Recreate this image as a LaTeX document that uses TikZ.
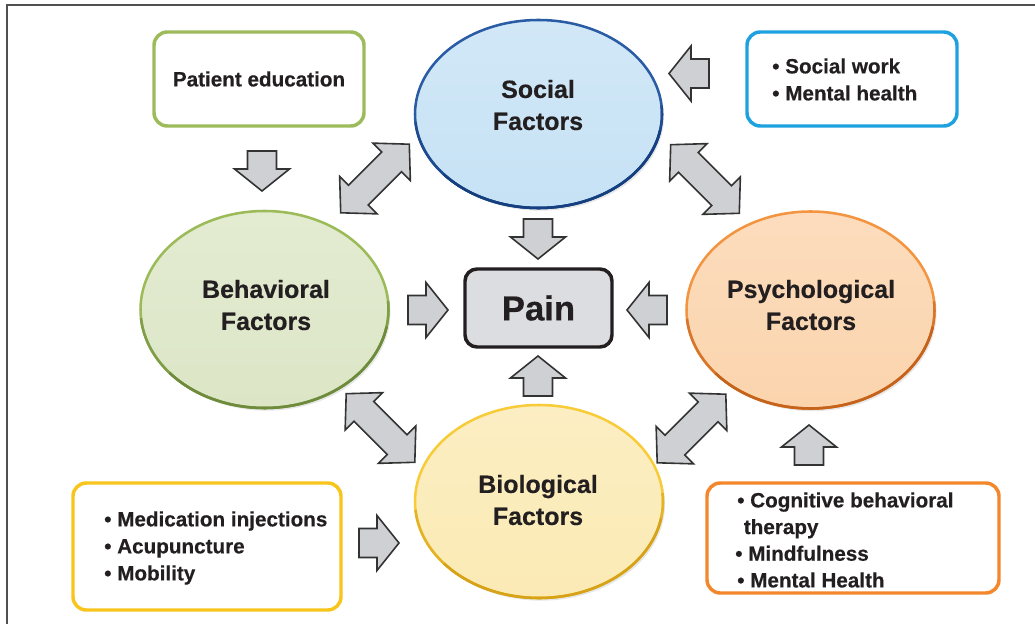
\documentclass[tikz,border=0pt]{standalone}
\usepackage{fontspec}
\setmainfont{Liberation Sans}[BoldFeatures={FakeBold=0.4}]
\usetikzlibrary{shapes.geometric,shadows}

\definecolor{txt}{HTML}{231F20}
\definecolor{frameline}{HTML}{505050}
\definecolor{socfill}{HTML}{C6E2F5}
\definecolor{socline}{HTML}{2A5CA6}
\definecolor{socdark}{HTML}{163F80}
\definecolor{behfill}{HTML}{DCE6C6}
\definecolor{behline}{HTML}{9BBB59}
\definecolor{behdark}{HTML}{6E8B3D}
\definecolor{psyfill}{HTML}{FBD4AD}
\definecolor{psyline}{HTML}{F39540}
\definecolor{psydark}{HTML}{C5621C}
\definecolor{biofill}{HTML}{FBEAB4}
\definecolor{bioline}{HTML}{F8CB38}
\definecolor{biodark}{HTML}{D6A21A}
\definecolor{patline}{HTML}{9DBB5A}
\definecolor{swline}{HTML}{1EA2DF}
\definecolor{medline}{HTML}{F7C51C}
\definecolor{cbtline}{HTML}{F4872B}
\definecolor{painfill}{HTML}{DCDDE0}
\definecolor{painline}{HTML}{231F20}
\definecolor{arrfill}{HTML}{CFD0D3}
\definecolor{arrline}{HTML}{333333}

\tikzset{
  ell/.style={ellipse, draw, line width=1.9pt, inner sep=0pt,
    drop shadow={opacity=0.2, shadow xshift=1.5pt, shadow yshift=-2pt}},
  rim/.style={line width=1.9pt},
  tbox/.style={rectangle, rounded corners=10pt, draw, line width=2.6pt,
    fill=white, inner sep=0pt, minimum width=157.5pt, minimum height=70.5pt},
  lbl/.style={align=center, inner sep=0pt, text=txt,
    font=\fontsize{18.75}{24}\selectfont\bfseries},
  itm/.style={align=left, anchor=west, inner sep=0pt, text=txt,
    font=\fontsize{15.5}{20.25}\selectfont\bfseries},
  arr/.style={draw=arrline, fill=arrfill, line width=1.2pt, line join=miter},
  frame/.style={draw=frameline, line width=1.5pt},
  sarrow/.pic={
    \path[arr] (0,-14.5) -- (18,-14.5) -- (18,-27.5) -- (40,0) -- (18,27.5)
      -- (18,14.5) -- (0,14.5) -- cycle;
  },
  darrow/.pic={
    \path[arr] (-48.5,0) -- (-23.5,26.5) -- (-23.5,14) -- (23.5,14) -- (23.5,26.5)
      -- (48.5,0) -- (23.5,-26.5) -- (23.5,-14) -- (-23.5,-14) -- (-23.5,-26.5) -- cycle;
  }
}

\begin{document}
\begin{tikzpicture}[x=0.75pt,y=-0.75pt]
\useasboundingbox (0,0) rectangle (1035,624);

% frame (only top and left edges visible)
\coordinate (fTR) at (1035,5);
\coordinate (fTL) at (6.5,5);
\coordinate (fBL) at (6.5,624);
\draw[frame] (fTR) -- (fTL) -- (fBL);

% ellipses
\node[ell, draw=socline, top color=socfill!80!white, bottom color=socfill,
  minimum width=185.25pt, minimum height=141pt] (social) at (538.5,114) {};
\node[ell, draw=behline, top color=behfill!80!white, bottom color=behfill,
  minimum width=186pt, minimum height=147.75pt] (behav) at (264.5,309.5) {};
\node[ell, draw=psyline, top color=psyfill!80!white, bottom color=psyfill,
  minimum width=186pt, minimum height=147.75pt] (psych) at (810.5,310) {};
\node[ell, draw=bioline, top color=biofill!80!white, bottom color=biofill,
  minimum width=186pt, minimum height=144.75pt] (bio) at (539,501.5) {};

% darker lower rims
\draw[rim, draw=socdark!60!socline] (social.center) ++(175:123.5 and 94)
  arc[start angle=175, end angle=-5, x radius=123.5, y radius=94];
\draw[rim, draw=socdark] (social.center) ++(140:123.5 and 94)
  arc[start angle=140, end angle=10, x radius=123.5, y radius=94];
\draw[rim, draw=behdark!60!behline] (behav.center) ++(175:124 and 98.5)
  arc[start angle=175, end angle=-5, x radius=124, y radius=98.5];
\draw[rim, draw=behdark] (behav.center) ++(140:124 and 98.5)
  arc[start angle=140, end angle=10, x radius=124, y radius=98.5];
\draw[rim, draw=psydark!60!psyline] (psych.center) ++(175:124 and 98.5)
  arc[start angle=175, end angle=-5, x radius=124, y radius=98.5];
\draw[rim, draw=psydark] (psych.center) ++(140:124 and 98.5)
  arc[start angle=140, end angle=10, x radius=124, y radius=98.5];
\draw[rim, draw=biodark!60!bioline] (bio.center) ++(175:124 and 96.5)
  arc[start angle=175, end angle=-5, x radius=124, y radius=96.5];
\draw[rim, draw=biodark] (bio.center) ++(140:124 and 96.5)
  arc[start angle=140, end angle=10, x radius=124, y radius=96.5];

\node[lbl] (sociallbl) at (538,105) {Social\\Factors};
\node[lbl] (behavlbl) at (266,305) {Behavioral\\Factors};
\node[lbl] (psychlbl) at (811,305) {Psychological\\Factors};
\node[lbl] (biolbl) at (538,500) {Biological\\Factors};

% central box
\node[draw=painline, fill=painfill, line width=2.6pt, rounded corners=9pt,
  minimum width=110.25pt, minimum height=58.5pt, inner sep=0pt, text=txt,
  font=\fontsize{26}{30}\selectfont\bfseries] (pain) at (538.5,308) {Pain};

% text boxes
\node[tbox, draw=patline, text=txt, font=\fontsize{15.5}{20.25}\selectfont\bfseries]
  (patient) at (259,79) {Patient education};
\node[tbox, draw=swline] (swork) at (852,79) {};
\node[itm] (sworktxt) at (772,79.5) {• Social work\\• Mental health};
\node[tbox, draw=medline, minimum width=201pt, minimum height=95.25pt] (meds) at (207,546.5) {};
\node[itm] (medstxt) at (104,548) {• Medication injections\\• Acupuncture\\• Mobility};
\node[tbox, draw=cbtline, minimum width=219pt, minimum height=82.5pt] (cbt) at (853,538) {};
\node[itm, font=\fontsize{15.5}{20}\selectfont\bfseries] (cbttxt) at (735,540)
  {\hspace{1.5pt}• Cognitive behavioral\\\hphantom{•}\hspace{1pt}therapy\\• Mindfulness\\\hspace{1.5pt}• Mental Health};

% single block arrows
\pic[rotate=-90] at (262,151) {sarrow};
\pic[rotate=-90] at (538,219) {sarrow};
\pic at (408,310) {sarrow};
\pic[rotate=180] at (667,310) {sarrow};
\pic[rotate=90] at (538,396) {sarrow};
\pic[rotate=180] at (709,73.5) {sarrow};
\pic at (359,543) {sarrow};
\pic[rotate=90] at (809,465) {sarrow};

% double block arrows
\pic[rotate=45] at (375,178.5) {darrow};
\pic[rotate=-45] at (705,179) {darrow};
\pic[rotate=-45] at (380.5,428) {darrow};
\pic[rotate=45] at (691.5,428.5) {darrow};
\end{tikzpicture}
\end{document}
